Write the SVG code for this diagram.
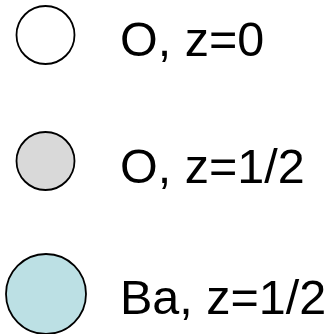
<svg xmlns="http://www.w3.org/2000/svg" width="327" height="334" viewBox="0 0 327 334">
<style>
.c{stroke:#000;stroke-width:1.8}
.t{font-family:"Liberation Sans",Arial,sans-serif;font-size:48.5px;fill:#000}
</style>
<rect width="327" height="334" fill="#fff"/>
<g id="o0">
<circle class="c" cx="45.5" cy="35" r="29" fill="#fff"/>
<text class="t" x="120" y="56">O, z=0</text>
</g>
<g id="o12">
<circle class="c" cx="45.5" cy="161" r="29" fill="#d9d9d9"/>
<text class="t" x="120" y="182.5">O, z=1/2</text>
</g>
<g id="ba12">
<circle class="c" cx="46" cy="294" r="40" fill="#bce0e4"/>
<text class="t" x="120" y="313.5">Ba, z=1/2</text>
</g>
</svg>
